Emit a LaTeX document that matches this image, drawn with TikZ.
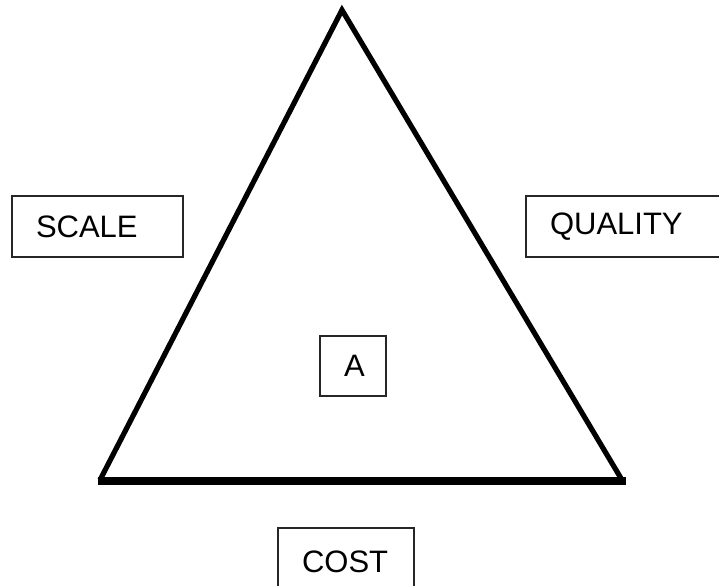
\documentclass[tikz,border=0pt]{standalone}
\usepackage{fontspec}
\setmainfont{Liberation Sans}
\usepackage{tikz}
\usetikzlibrary{calc}
\tikzset{labelbox/.style={draw=black!85, line width=0.75pt, inner xsep=12pt, align=left, minimum height=30.5pt, font=\fontsize{15.5}{18}\selectfont}}

\begin{document}
\begin{tikzpicture} [x=0.5pt,y=-0.5pt]
\useasboundingbox (0,0) rectangle (719,585);
\coordinate (top) at (342,10);
\coordinate (left) at (100,480);
\coordinate (right) at (622,480);
\draw[black, line width=2.6pt, line join=miter] (left)--(top)--(right);
\draw[black, line width=4pt] ($(left)+(-2,1)$)--($(right)+(4,1)$);
\node[labelbox, text width=61.5pt] (scale) at (97.5,226.5) {SCALE};
\node[labelbox, text width=77pt] (quality) at (627,226.5) {QUALITY};
\node[labelbox, text width=9pt, inner xsep=12pt, minimum height=30pt] (a) at (353,366) {A};
\node[labelbox, text width=44pt, minimum height=34pt] (cost) at (346,562) {COST};
\end{tikzpicture}
\end{document}
